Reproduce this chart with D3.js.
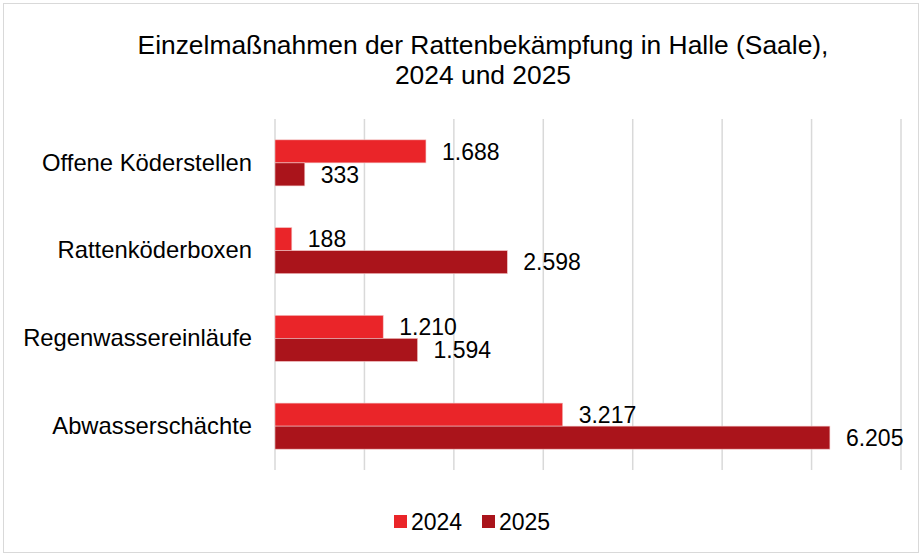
<!DOCTYPE html>
<html>
<head>
<meta charset="utf-8">
<script src="https://cdn.jsdelivr.net/npm/d3@7"></script>
<style>
  body { margin: 0; background: white; }
  text { font-family: "Liberation Sans", Arial, sans-serif; fill: #000; }
</style>
</head>
<body>
<div id="chart"></div>
<script>
// data
const categories = ['Offene Köderstellen', 'Rattenköderboxen', 'Regenwassereinläufe', 'Abwasserschächte'];
const years = ['2024', '2025'];
const values2024 = [1688, 188, 1210, 3217];
const values2025 = [333, 2598, 1594, 6205];
const xTicks = [0, 1000, 2000, 3000, 4000, 5000, 6000, 7000];
const colors = ['#ea2529', '#aa141b'];

const width = 922, height = 556;
const margin = { top: 119, right: 21, bottom: 86, left: 275 };

const de = d3.formatLocale({ decimal: ',', thousands: '.', grouping: [3], currency: ['', ' €'] });
const fmt = de.format(',d');

const svg = d3.select('#chart')
  .append('svg')
  .attr('width', width)
  .attr('height', height);

// chart border
svg.append('rect')
  .attr('x', 3.5).attr('y', 3.5)
  .attr('width', width - 7).attr('height', height - 7)
  .attr('fill', 'white')
  .attr('stroke', '#d9d9d9');

// title
svg.append('text')
  .attr('x', 483).attr('y', 54)
  .attr('text-anchor', 'middle')
  .style('font-size', '26.4px')
  .text('Einzelmaßnahmen der Rattenbekämpfung in Halle (Saale),');
svg.append('text')
  .attr('x', 483).attr('y', 84)
  .attr('text-anchor', 'middle')
  .style('font-size', '26.4px')
  .text('2024 und 2025');

const xScale = d3.scaleLinear()
  .domain([0, 7000])
  .range([margin.left, width - margin.right]);

const yScale = d3.scaleBand()
  .domain(categories)
  .range([margin.top, height - margin.bottom])
  .paddingInner(0.475)
  .paddingOuter(0.2375);

const sub = d3.scaleBand()
  .domain(years)
  .range([0, yScale.bandwidth()]);

// gridlines
svg.append('g')
  .selectAll('line')
  .data(xTicks)
  .enter()
  .append('line')
    .attr('x1', d => xScale(d)).attr('x2', d => xScale(d))
    .attr('y1', margin.top).attr('y2', height - margin.bottom)
    .attr('stroke', '#d9d9d9')
    .attr('stroke-width', 1.5);

// category labels
const yAxis = d3.axisLeft(yScale).tickSize(0).tickPadding(23);
const yG = svg.append('g')
  .attr('transform', `translate(${margin.left}, 0)`)
  .call(yAxis);
yG.select('.domain').remove();
yG.selectAll('text')
  .style('font-size', '23.8px')
  .style('font-family', '"Liberation Sans", Arial, sans-serif');

const series = [values2024, values2025];
series.forEach((vals, si) => {
  const g = svg.append('g');
  const rows = categories.map((c, i) => ({ cat: c, value: vals[i] }));
  g.selectAll('rect')
    .data(rows)
    .enter()
    .append('rect')
      .attr('x', xScale(0))
      .attr('y', d => yScale(d.cat) + sub(years[si]))
      .attr('width', d => xScale(d.value) - xScale(0))
      .attr('height', sub.bandwidth())
      .attr('fill', colors[si])
      .attr('stroke', '#f2c4c4')
      .attr('stroke-width', 0.6);
  g.selectAll('text')
    .data(rows)
    .enter()
    .append('text')
      .attr('x', d => xScale(d.value) + 16)
      .attr('y', d => yScale(d.cat) + sub(years[si]) + sub.bandwidth() / 2)
      .attr('dy', '0.36em')
      .style('font-size', '23px')
      .text(d => fmt(d.value));
});

// legend
const legendX = [394, 482];
const legend = svg.append('g');
years.forEach((y, i) => {
  legend.append('rect')
    .attr('x', legendX[i]).attr('y', 515)
    .attr('width', 13).attr('height', 13)
    .attr('fill', colors[i]);
  legend.append('text')
    .attr('x', legendX[i] + 17).attr('y', 522)
    .attr('dy', '0.36em')
    .style('font-size', '23px')
    .text(y);
});
</script>
</body>
</html>
